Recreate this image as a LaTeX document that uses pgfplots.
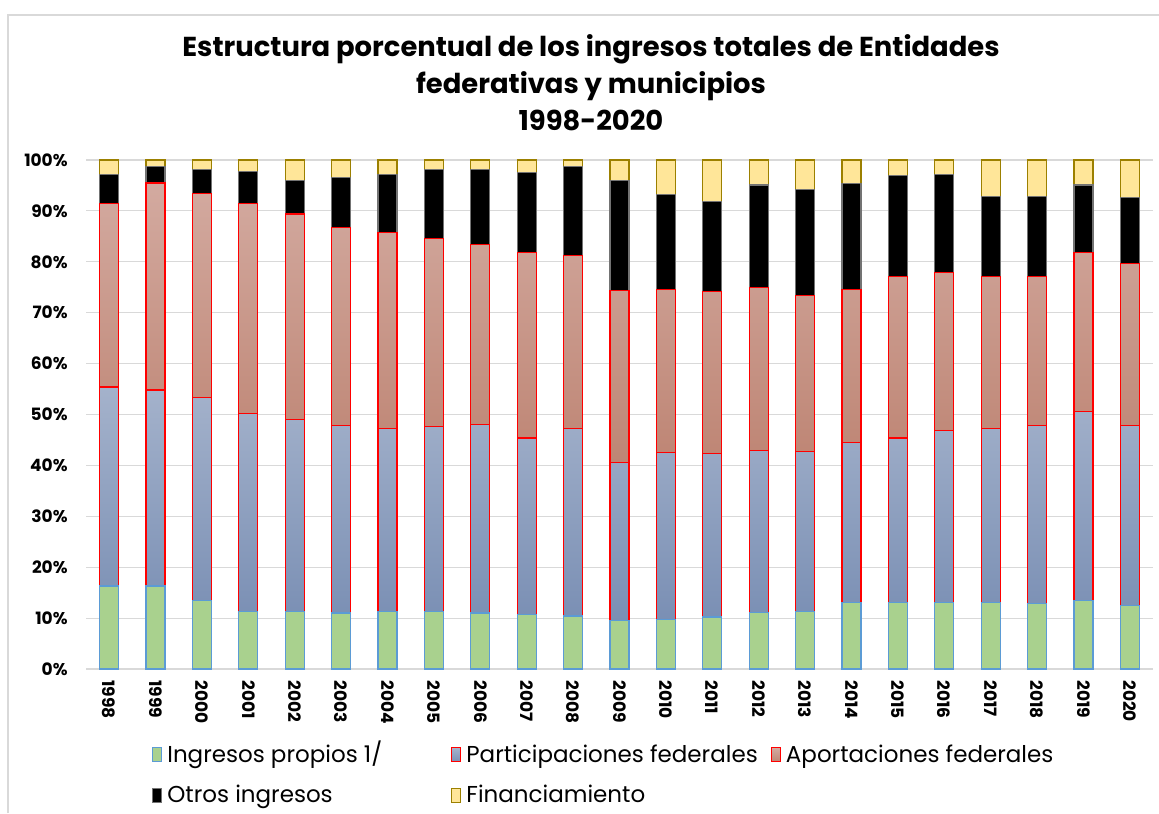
\documentclass[border=0pt]{standalone}
\usepackage{pgfplots}
\pgfplotsset{compat=1.18}
\usepackage{fontspec}
\setmainfont{Poppins}

\definecolor{cGreen}{HTML}{A9D18E}
\definecolor{cGreenB}{HTML}{5B9BD5}
\definecolor{cBlueT}{RGB}{164,178,203}
\definecolor{cBlueB}{RGB}{122,143,180}
\definecolor{cRedT}{RGB}{211,170,160}
\definecolor{cRedB}{RGB}{190,133,116}
\definecolor{cYel}{HTML}{FFE699}
\definecolor{cYelB}{RGB}{156,128,0}
\definecolor{cGrid}{HTML}{D9D9D9}

\begin{document}
\begin{tikzpicture}
\useasboundingbox (0,0) rectangle (579.5pt,406.5pt);
% chart frame (cut at right and bottom)
\draw[cGrid, line width=0.6pt] (4pt,0) -- (4pt,399pt) -- (579.5pt,399pt);

\node[align=center, font=\fontsize{13.7}{18.5}\selectfont\bfseries]
  at (295.5pt,365pt) {Estructura porcentual de los ingresos totales de Entidades\\federativas y municipios\\1998-2020};

\begin{axis}[
    at={(43pt,72pt)}, anchor=south west,
    scale only axis,
    width=533.5pt, height=254.5pt,
    ybar stacked,
    bar width=9.5pt,
    xmin=-0.5, xmax=22.5,
    ymin=0, ymax=100,
    axis line style={draw=none},
    major tick length=0pt,
    ytick={0,10,...,100},
    yticklabel={\pgfmathprintnumber{\tick}\%},
    yticklabel style={font=\fontsize{8.5}{10}\selectfont\bfseries, inner sep=0pt, xshift=-9pt},
    xtick={0,...,22},
    xticklabels={1998,1999,2000,2001,2002,2003,2004,2005,2006,2007,2008,2009,2010,2011,2012,2013,2014,2015,2016,2017,2018,2019,2020},
    xticklabel style={font=\fontsize{8.5}{10}\selectfont\bfseries, rotate=-90, anchor=west, inner sep=0pt, xshift=5.5pt},
    /pgf/number format/assume math mode=true,
    ymajorgrids=true,
    grid style={cGrid, line width=0.6pt},
    legend image code/.code={\draw[#1, line width=0.6pt] (0pt,-3.5pt) rectangle (4.5pt,3.5pt);},
    legend style={draw=none, fill=none,
        at={(axis description cs:0.056,-0.132)}, anchor=north west,
        font=\fontsize{11.5}{13}\selectfont,
        cells={anchor=west, text height=1.6ex, text depth=0.25ex},
        row sep=6pt,
        /tikz/column 2/.style={column sep=32.5pt},
        /tikz/column 4/.style={column sep=4.5pt},
        /tikz/every odd column/.append style={column sep=0.5pt},
    },
    legend columns=3,
]
% Ingresos propios 1/
\addplot[fill=cGreen, draw=cGreenB, line width=0.6pt] coordinates {
(0,16.3) (1,16.3) (2,13.5) (3,11.3) (4,11.3) (5,11.0) (6,11.3) (7,11.3) (8,11.0) (9,10.7) (10,10.4)
(11,9.5) (12,9.8) (13,10.2) (14,11.1) (15,11.3) (16,13.1) (17,13.1) (18,13.1) (19,13.1) (20,12.9) (21,13.5) (22,12.5)};
% Participaciones federales
\addplot[top color=cBlueT, bottom color=cBlueB, draw=red, line width=0.6pt] coordinates {
(0,39.1) (1,38.5) (2,39.8) (3,38.9) (4,37.7) (5,36.8) (6,35.9) (7,36.3) (8,37.1) (9,34.7) (10,36.8)
(11,31.1) (12,32.7) (13,32.2) (14,31.9) (15,31.4) (16,31.4) (17,32.3) (18,33.8) (19,34.2) (20,35.0) (21,37.1) (22,35.3)};
% Aportaciones federales
\addplot[top color=cRedT, bottom color=cRedB, draw=red, line width=0.6pt] coordinates {
(0,36.1) (1,40.7) (2,40.1) (3,41.3) (4,40.4) (5,38.9) (6,38.5) (7,37.0) (8,35.3) (9,36.4) (10,34.1)
(11,33.8) (12,32.1) (13,31.7) (14,31.9) (15,30.7) (16,30.1) (17,31.7) (18,31.0) (19,29.8) (20,29.2) (21,31.2) (22,31.9)};
% Otros ingresos
\addplot[fill=black, draw=black!55, line width=0.6pt] coordinates {
(0,5.7) (1,3.2) (2,4.8) (3,6.3) (4,6.6) (5,9.8) (6,11.5) (7,13.5) (8,14.7) (9,15.7) (10,17.4)
(11,21.6) (12,18.6) (13,17.7) (14,20.2) (15,20.8) (16,20.8) (17,19.8) (18,19.3) (19,15.8) (20,15.8) (21,13.3) (22,12.9)};
% Financiamiento
\addplot[fill=cYel, draw=cYelB, line width=0.6pt] coordinates {
(0,2.8) (1,1.3) (2,1.8) (3,2.2) (4,4.0) (5,3.5) (6,2.8) (7,1.9) (8,1.9) (9,2.5) (10,1.3)
(11,4.0) (12,6.8) (13,8.2) (14,4.9) (15,5.8) (16,4.6) (17,3.1) (18,2.8) (19,7.1) (20,7.1) (21,4.9) (22,7.4)};
\legend{Ingresos propios 1/, Participaciones federales, Aportaciones federales, Otros ingresos, Financiamiento}
\end{axis}
\end{tikzpicture}
\end{document}
